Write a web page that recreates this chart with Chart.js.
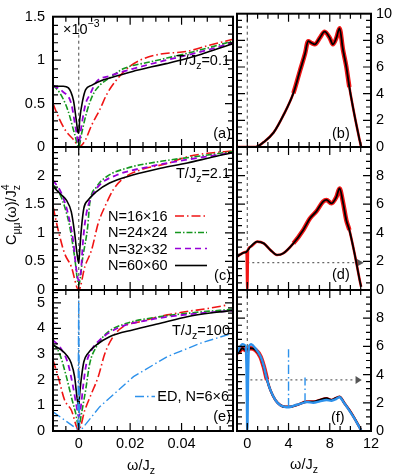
<!DOCTYPE html>
<html><head><meta charset="utf-8">
<script src="https://cdn.jsdelivr.net/npm/chart.js@4/dist/chart.umd.min.js"></script>
<style>
html,body{margin:0;padding:0;background:#fff;width:395px;height:475px;overflow:hidden;}
canvas{position:absolute;left:0;top:0;}
</style></head><body>
<canvas id="pa" width="395" height="475"></canvas>
<canvas id="pb" width="395" height="475"></canvas>
<canvas id="pc" width="395" height="475"></canvas>
<canvas id="pd" width="395" height="475"></canvas>
<canvas id="pe" width="395" height="475"></canvas>
<canvas id="pf" width="395" height="475"></canvas>
<script>
// ---------------- DATA ----------------
// tick labels
const LEFT_X_LABELS = [0, 0.02, 0.04];
const RIGHT_X_LABELS = [0, 4, 8, 12];
const A_Y_LABELS = [0, 0.5, 1, 1.5];
const C_Y_LABELS = [0, 0.5, 1, 1.5, 2];
const E_Y_LABELS = [0, 1, 2, 3, 4, 5];
const B_Y_LABELS = [0, 2, 4, 6, 8, 10];
const DF_Y_LABELS = [0, 2, 4, 6, 8];
const LEGEND_LABELS = ['N=16\u00d716', 'N=24\u00d724', 'N=32\u00d732', 'N=60\u00d760'];
const ED_LABEL = 'ED, N=6\u00d76';

// panel (a) T/Jz = 0.1
const a_N16 = [[-0.01,0.5],[-0.0075,0.32],[-0.0049,0.18],[-0.0016,0.07],[0,0],[0.0024,0.07],[0.005,0.25],[0.0082,0.43],[0.0108,0.6],[0.0141,0.75],[0.0187,0.9],[0.0239,1.0],[0.0318,1.07],[0.042,1.1],[0.0506,1.17],[0.06,1.24]];
const a_N24 = [[-0.01,0.71],[-0.0075,0.63],[-0.0043,0.43],[-0.0016,0.15],[0,0],[0.0011,0.15],[0.003,0.39],[0.0055,0.6],[0.0082,0.71],[0.0122,0.8],[0.0173,0.9],[0.0279,0.98],[0.041,1.07],[0.054,1.17],[0.06,1.22]];
const a_N32 = [[-0.01,0.71],[-0.0063,0.64],[-0.0029,0.5],[-0.0012,0.22],[0,0.04],[0.0011,0.25],[0.0027,0.5],[0.0043,0.6],[0.0069,0.75],[0.0122,0.82],[0.021,0.9],[0.034,1.0],[0.048,1.1],[0.06,1.2]];
const a_N60 = [[-0.01,0.70],[-0.006,0.70],[-0.004,0.68],[-0.003,0.63],[-0.002,0.53],[-0.001,0.32],[-0.0003,0.17],[0,0.16],[0.0004,0.32],[0.0015,0.53],[0.0027,0.66],[0.005,0.71],[0.0094,0.77],[0.015,0.82],[0.021,0.87],[0.028,0.92],[0.034,0.96],[0.041,1.01],[0.048,1.07],[0.054,1.13],[0.06,1.19]];

// panel (c) T/Jz = 2.1
const c_N16 = [[-0.01,1.46],[-0.008,1.05],[-0.0055,0.64],[-0.0029,0.41],[0,0],[0.0024,0.41],[0.005,0.7],[0.0076,1.17],[0.0102,1.46],[0.0134,1.75],[0.0173,1.95],[0.024,2.1],[0.0344,2.21],[0.0422,2.33],[0.05,2.39],[0.06,2.43]];
const c_N24 = [[-0.01,1.84],[-0.0075,1.69],[-0.0055,1.46],[-0.0035,1.11],[-0.0016,0.58],[0,0.09],[0.0016,0.58],[0.0035,1.11],[0.0043,1.52],[0.0069,1.8],[0.0108,1.98],[0.0187,2.13],[0.032,2.25],[0.045,2.33],[0.06,2.42]];
const c_N32 = [[-0.01,1.92],[-0.0067,1.69],[-0.0042,1.34],[-0.0022,0.87],[-0.0009,0.35],[0,0.17],[0.0009,0.35],[0.0017,0.87],[0.003,1.34],[0.005,1.63],[0.0082,1.84],[0.0148,2.01],[0.0278,2.16],[0.0409,2.27],[0.06,2.4]];
const c_N60 = [[-0.01,1.81],[-0.0067,1.66],[-0.0048,1.57],[-0.0029,1.37],[-0.0016,1.0],[-0.0007,0.65],[0,0.47],[0.0004,0.7],[0.0011,1.1],[0.002,1.43],[0.0036,1.57],[0.0069,1.72],[0.012,1.87],[0.021,2.01],[0.0318,2.13],[0.0422,2.22],[0.0526,2.33],[0.06,2.4]];

// panel (e) T/Jz = 100
const e_N16 = [[-0.01,2.77],[-0.008,2.12],[-0.0055,1.21],[-0.0029,0.82],[0,0.04],[0.0024,0.82],[0.005,1.47],[0.0076,2.12],[0.0102,3.03],[0.0134,3.68],[0.0173,4.07],[0.024,4.27],[0.0344,4.53],[0.042,4.66],[0.0503,4.78],[0.058,4.92]];
const e_N24 = [[-0.01,3.4],[-0.0075,3.03],[-0.0048,2.12],[-0.0029,1.34],[-0.0012,0.7],[0,0.17],[0.0011,0.7],[0.0027,1.6],[0.0043,2.64],[0.0069,3.29],[0.0108,3.81],[0.0187,4.2],[0.0318,4.46],[0.045,4.62],[0.06,4.75]];
const e_N32 = [[-0.01,3.55],[-0.0068,3.2],[-0.0042,2.64],[-0.0022,1.73],[-0.0009,1.0],[0,0.56],[0.0009,1.0],[0.0017,1.73],[0.003,2.64],[0.005,3.16],[0.0082,3.55],[0.0148,4.0],[0.0278,4.34],[0.0409,4.53],[0.06,4.7]];
const e_N60 = [[-0.01,3.36],[-0.0068,3.16],[-0.0048,2.97],[-0.0029,2.64],[-0.0016,2.12],[-0.0007,1.34],[0,0.95],[0.0004,1.48],[0.0011,2.12],[0.002,2.7],[0.0036,3.03],[0.0069,3.36],[0.012,3.68],[0.0213,3.95],[0.0318,4.2],[0.0422,4.46],[0.0527,4.62],[0.06,4.7]];
const e_ED = [[-0.01,0.75],[-0.0003,0.05],[0,5.1],[0.0003,0.05],[0.001,0.05],[0.0082,0.95],[0.0213,2.12],[0.0344,2.9],[0.0475,3.43],[0.06,3.82]];

// panel (b) T/Jz = 0.1 (full range)
const b_mean = [[-1,0],[0.8,0],[1.6,0.37],[2.55,1.08],[3.5,2.38],[4.47,4.04],[5.1,5.7],[5.6,7.0],[5.9,7.94],[6.24,7.8],[6.55,7.7],[7.03,8.18],[7.5,8.65],[8.0,8.18],[8.3,7.7],[8.64,8.18],[8.95,8.9],[9.27,7.35],[9.6,6.05],[9.9,4.5],[10.4,2.38],[10.9,0.5],[11.04,0]];
// panel (d) T/Jz = 2.1
const d_mean = [[-1,2.33],[-0.48,2.57],[-0.07,2.68],[0.32,3.03],[0.96,3.38],[1.6,3.26],[2.24,2.8],[2.88,2.45],[3.5,2.57],[4.47,3.26],[5.43,4.2],[6.07,5.0],[6.7,5.5],[7.35,6.18],[7.68,6.3],[8.16,6.06],[8.64,6.5],[8.95,7.1],[9.27,6.18],[9.6,4.9],[9.9,4.2],[10.4,2.57],[10.9,0.7],[11.04,0.23]];
const d_qmc = [[-1,2.33],[-0.48,2.57],[-0.07,2.68],[0,0],[0.07,2.8],[0.32,3.03],[0.96,3.38],[1.6,3.26],[2.24,2.8],[2.88,2.45],[3.5,2.57],[4.47,3.26],[5.43,4.2],[6.07,5.0],[6.7,5.5],[7.35,6.18],[7.68,6.3],[8.16,6.06],[8.64,6.5],[8.95,7.1],[9.27,6.18],[9.6,4.9],[9.9,4.2],[10.4,2.57],[10.9,0.7],[11.04,0.23]];
const D_GUIDE_Y = 1.91;
// panel (f) T/Jz = 100
const f_mean = [[-1,5.55],[-0.8,5.62],[-0.48,5.86],[-0.16,5.74],[0.32,5.86],[0.8,5.74],[1.28,5.27],[1.6,4.56],[1.92,3.62],[2.24,2.9],[2.72,2.2],[3.2,1.84],[3.68,1.72],[4.15,1.72],[4.8,1.84],[5.76,2.08],[6.4,2.08],[7.03,2.2],[7.68,2.32],[8.16,2.2],[8.57,2.32],[8.95,2.43],[9.43,1.96],[9.9,1.49],[10.4,0.9],[11.04,0.07]];
const f_ED = [[-1,5.6],[-0.5,6.15],[-0.15,6.0],[0,0],[0.15,6.0],[0.4,6.15],[0.8,5.85],[1.28,5.3],[1.6,4.6],[1.92,3.62],[2.24,2.9],[2.72,2.2],[3.2,1.82],[3.68,1.7],[4.15,1.7],[4.8,1.86],[5.76,2.05],[6.4,2.0],[7.03,2.1],[7.68,2.2],[8.16,2.15],[8.57,2.25],[8.95,2.4],[9.43,1.95],[9.9,1.45],[10.4,0.88],[11.04,0.05]];
const f_ED_peak1 = [[4,1.7],[4,5.8]];
const f_ED_peak2 = [[5.6,2.05],[5.6,3.8]];
const F_GUIDE_Y = 3.62;

// ---------------- STYLE / HELPERS ----------------
const FF = '"Liberation Sans", Arial, Helvetica, sans-serif';
const FS = 14.5, FSS = 10.5;
const RED = 'rgb(240,20,20)', GREEN = 'rgb(20,150,30)', PURPLE = 'rgb(150,0,215)', BLUE = 'rgb(45,145,235)';
const DASH = { red:[9,3,1.5,3], green:[6,2,1.5,2], purple:[6,4], blue:[9,3,1.5,3] };
const pts = a => a.map(([x,y]) => ({x, y}));

function rich(ctx, parts, x, y, align) {
  let w = 0; const m = [];
  parts.forEach(p => { ctx.font = ((p.sub||p.sup) ? FSS : FS) + 'px ' + FF; const pw = ctx.measureText(p.t).width; m.push(pw); if (!p.stack) w += pw; });
  let cx = align === 'right' ? x - w : align === 'center' ? x - w/2 : x;
  let last = cx;
  ctx.textAlign = 'left'; ctx.textBaseline = 'alphabetic'; ctx.fillStyle = '#000';
  parts.forEach((p,i) => {
    ctx.font = ((p.sub||p.sup) ? FSS : FS) + 'px ' + FF;
    const dy = p.sub ? 4 : p.sup ? -7 : 0;
    if (p.stack) { ctx.fillText(p.t, last, y + dy); }
    else { ctx.fillText(p.t, cx, y + dy); last = cx; cx += m[i]; }
  });
}

function lineDs(data, color, dash, width, extra) {
  return Object.assign({ data: pts(data), borderColor: color, borderDash: dash || [], borderWidth: width || 1.6,
    pointRadius: 0, fill: false, clip: 0, cubicInterpolationMode: 'monotone' }, extra || {});
}
// later datasets are drawn on top
const stackOrder = sets => sets.map((d, i) => Object.assign(d, { order: sets.length - i }));

function range(min, max, step) {
  const out = []; const n = Math.round((max - min) / step);
  for (let i = 0; i <= n; i++) out.push(Math.round((min + i * step) * 1e9) / 1e9);
  return out;
}
const isIn = (arr, v) => arr.some(l => Math.abs(l - v) < 1e-9);

const deco = {
  id: 'deco',
  beforeDatasetsDraw(chart, args, o) {
    const {ctx, chartArea: ca, scales: {x, y}} = chart;
    ctx.save();
    ctx.beginPath(); ctx.rect(ca.left, ca.top, ca.right - ca.left, ca.bottom - ca.top); ctx.clip();
    ctx.strokeStyle = '#666'; ctx.lineWidth = 1.2; ctx.setLineDash([3, 3]);
    const x0 = x.getPixelForValue(0);
    ctx.beginPath(); ctx.moveTo(x0, ca.top); ctx.lineTo(x0, ca.bottom); ctx.stroke();
    if (o.guide) {
      const g = o.guide; const py = y.getPixelForValue(g.y);
      ctx.setLineDash([2, 3]); ctx.lineWidth = 1.2;
      ctx.beginPath(); ctx.moveTo(x.getPixelForValue(g.x0), py); ctx.lineTo(x.getPixelForValue(g.x1), py); ctx.stroke();
      ctx.setLineDash([]); ctx.fillStyle = '#555';
      const ax0 = x.getPixelForValue(g.x1), ax1 = x.getPixelForValue(g.xa);
      ctx.beginPath(); ctx.moveTo(ax0, py - 4); ctx.lineTo(ax1, py); ctx.lineTo(ax0, py + 4); ctx.closePath(); ctx.fill();
    }
    ctx.restore();
  },
  afterDraw(chart, args, o) {
    const {ctx, chartArea: ca, scales: {x, y}} = chart;
    ctx.save();
    ctx.setLineDash([]); ctx.strokeStyle = '#000'; ctx.lineWidth = 1.2;
    ctx.beginPath();
    x.ticks.forEach(t => {
      if (t.value <= x.min + 1e-12 || t.value >= x.max - 1e-12) return;
      const p = x.getPixelForValue(t.value); const L = isIn(o.xMajor, t.value) ? 8 : 5;
      ctx.moveTo(p, ca.bottom); ctx.lineTo(p, ca.bottom - L);
      ctx.moveTo(p, ca.top); ctx.lineTo(p, ca.top + L);
    });
    y.ticks.forEach(t => {
      if (t.value <= y.min + 1e-12 || t.value >= y.max - 1e-12) return;
      const p = y.getPixelForValue(t.value); const L = isIn(o.yMajor, t.value) ? 8 : 5;
      ctx.moveTo(ca.left, p); ctx.lineTo(ca.left + L, p);
      ctx.moveTo(ca.right, p); ctx.lineTo(ca.right - L, p);
    });
    ctx.stroke();
    ctx.lineWidth = 2;
    ctx.strokeRect(ca.left, ca.top, ca.right - ca.left, ca.bottom - ca.top);
    (o.texts || []).forEach(tx => rich(ctx, tx.parts, tx.x, tx.y, tx.align));
    (o.legend || []).forEach(l => {
      ctx.save(); ctx.strokeStyle = l.color; ctx.lineWidth = 1.6; ctx.setLineDash(l.dash);
      ctx.beginPath(); ctx.moveTo(l.x0, l.ly); ctx.lineTo(l.x1, l.ly); ctx.stroke(); ctx.restore();
      rich(ctx, [{t: l.text}], l.tx, l.ty, l.align || 'left');
    });
    if (o.ytitle) {
      ctx.save(); ctx.translate(o.ytitle.x, o.ytitle.y); ctx.rotate(-Math.PI / 2);
      rich(ctx, [{t:'C'},{t:'\u03bc\u03bc', sub:true},{t:'(\u03c9)/J'},{t:'z', sub:true},{t:'4', sup:true, stack:true}], 0, 0, 'center');
      ctx.restore();
    }
    ctx.restore();
  }
};

function panel(id, rect, cfg) {
  const W = 395, H = 475;
  const xAxisH = cfg.showX ? 44 : 0;
  const left = cfg.ySide === 'left';
  const yW = left ? rect.l : W - rect.r;
  new Chart(document.getElementById(id), {
    type: 'line',
    data: { datasets: stackOrder(cfg.datasets) },
    options: {
      responsive: false, animation: false, events: [],
      layout: { autoPadding: false, padding: { left: left ? 0 : rect.l, right: left ? W - rect.r : 0, top: rect.t, bottom: H - rect.b - xAxisH } },
      plugins: { legend: { display: false }, tooltip: { enabled: false }, deco: cfg.deco },
      scales: {
        x: { type: 'linear', position: 'bottom', min: cfg.xr[0], max: cfg.xr[1],
          grid: { display: false, drawTicks: false }, border: { display: false },
          afterBuildTicks: s => { s.ticks = range(cfg.xr[0], cfg.xr[1], cfg.xStep).map(v => ({value: v})); },
          afterFit: s => { s.height = xAxisH; },
          ticks: { display: !!cfg.showX, autoSkip: false, maxRotation: 0, minRotation: 0, padding: 4, color: '#000',
            font: { family: FF, size: FS },
            callback: v => isIn(cfg.xLabels, v) ? String(Math.round(v * 1e6) / 1e6) : '' } },
        y: { type: 'linear', position: cfg.ySide, min: cfg.yr[0], max: cfg.yr[1],
          grid: { display: false, drawTicks: false }, border: { display: false },
          afterBuildTicks: s => { s.ticks = range(cfg.yr[0], cfg.yr[1], cfg.yStep).map(v => ({value: v})); },
          afterFit: s => { s.width = yW; },
          ticks: { autoSkip: false, padding: left ? 8 : 5, color: '#000', font: { family: FF, size: FS },
            callback: v => isIn(cfg.yLabels, v) ? String(Math.round(v * 1e6) / 1e6) : '' } }
      }
    },
    plugins: [deco]
  });
}

const LX = [-0.01, 0.06], RX = [-1, 12];
const L = {l: 53, r: 233}, R = {l: 237, r: 371};
const ROWS = [{t: 6, b: 147}, {t: 147, b: 290}, {t: 290, b: 431}];
const leftSets = (n16, n24, n32, n60) => [
  lineDs(n16, RED, DASH.red, 1.6), lineDs(n24, GREEN, DASH.green, 1.6),
  lineDs(n32, PURPLE, DASH.purple, 1.8), lineDs(n60, '#000', [], 1.6)];
const tz = (val) => [{t:'T/J'},{t:'z', sub:true},{t:'=' + val}];
const redBand = (data) => lineDs(data, RED, [], 4, { segment: { borderWidth: c => (c.p0.parsed.y + c.p1.parsed.y) / 2 > 3.5 ? 4.5 : 2.6 } });

// (a)
panel('pa', {l: L.l, r: L.r, t: ROWS[0].t, b: ROWS[0].b}, {
  xr: LX, yr: [0, 1.5], xStep: 0.005, yStep: 0.1, xLabels: LEFT_X_LABELS, yLabels: A_Y_LABELS, ySide: 'left',
  datasets: leftSets(a_N16, a_N24, a_N32, a_N60),
  deco: { xMajor: LEFT_X_LABELS, yMajor: A_Y_LABELS, texts: [
    {parts: [{t:'\u00d710'},{t:'\u22123', sup:true}], x: 63, y: 34, align: 'left'},
    {parts: tz('0.1'), x: 230, y: 65, align: 'right'},
    {parts: [{t:'(a)'}], x: 231, y: 138, align: 'right'}] }
});
// (c)
panel('pc', {l: L.l, r: L.r, t: ROWS[1].t, b: ROWS[1].b}, {
  xr: LX, yr: [0, 2.5], xStep: 0.005, yStep: 0.1, xLabels: LEFT_X_LABELS, yLabels: C_Y_LABELS, ySide: 'left',
  datasets: leftSets(c_N16, c_N24, c_N32, c_N60),
  deco: { xMajor: LEFT_X_LABELS, yMajor: C_Y_LABELS, texts: [
    {parts: tz('2.1'), x: 230, y: 178, align: 'right'},
    {parts: [{t:'(c)'}], x: 231, y: 280, align: 'right'}],
    legend: [
      {text: LEGEND_LABELS[0], tx: 108, ty: 221, x0: 175, x1: 207, ly: 216, color: RED, dash: DASH.red},
      {text: LEGEND_LABELS[1], tx: 108, ty: 237, x0: 175, x1: 207, ly: 232.5, color: GREEN, dash: DASH.green},
      {text: LEGEND_LABELS[2], tx: 108, ty: 253.5, x0: 175, x1: 207, ly: 248.5, color: PURPLE, dash: DASH.purple},
      {text: LEGEND_LABELS[3], tx: 108, ty: 270, x0: 175, x1: 207, ly: 265.5, color: '#000', dash: []}],
    ytitle: {x: 16, y: 215} }
});
// (e)
panel('pe', {l: L.l, r: L.r, t: ROWS[2].t, b: ROWS[2].b}, {
  xr: LX, yr: [0, 5.5], xStep: 0.005, yStep: 0.2, xLabels: LEFT_X_LABELS, yLabels: E_Y_LABELS, ySide: 'left', showX: true,
  datasets: leftSets(e_N16, e_N24, e_N32, e_N60).concat([lineDs(e_ED, BLUE, DASH.blue, 1.4, {cubicInterpolationMode: 'default', tension: 0})]),
  deco: { xMajor: LEFT_X_LABELS, yMajor: E_Y_LABELS, texts: [
    {parts: tz('100'), x: 230, y: 335, align: 'right'},
    {parts: [{t:'(e)'}], x: 231, y: 421, align: 'right'},
    {parts: [{t:'\u03c9/J'},{t:'z', sub:true}], x: 141, y: 470, align: 'center'}],
    legend: [{text: ED_LABEL, tx: 229, ty: 401, align: 'right', x0: 135, x1: 155, ly: 396.5, color: BLUE, dash: DASH.blue}] }
});
// (b)
panel('pb', {l: R.l, r: R.r, t: ROWS[0].t, b: ROWS[0].b}, {
  xr: RX, yr: [0, 10], xStep: 1, yStep: 0.5, xLabels: RIGHT_X_LABELS, yLabels: B_Y_LABELS, ySide: 'right',
  datasets: [redBand(b_mean), lineDs(b_mean, '#000', [], 1.8)],
  deco: { xMajor: RIGHT_X_LABELS, yMajor: B_Y_LABELS, texts: [{parts: [{t:'(b)'}], x: 332, y: 138, align: 'left'}] }
});
// (d)
panel('pd', {l: R.l, r: R.r, t: ROWS[1].t, b: ROWS[1].b}, {
  xr: RX, yr: [0, 10], xStep: 1, yStep: 0.5, xLabels: RIGHT_X_LABELS, yLabels: DF_Y_LABELS, ySide: 'right',
  datasets: [redBand(d_qmc), lineDs(d_mean, '#000', [], 1.8)],
  deco: { xMajor: RIGHT_X_LABELS, yMajor: DF_Y_LABELS, guide: {y: D_GUIDE_Y, x0: 0, x1: 10.6, xa: 11.3},
    texts: [{parts: [{t:'(d)'}], x: 332, y: 279, align: 'left'}] }
});
// (f)
panel('pf', {l: R.l, r: R.r, t: ROWS[2].t, b: ROWS[2].b}, {
  xr: RX, yr: [0, 10], xStep: 1, yStep: 0.5, xLabels: RIGHT_X_LABELS, yLabels: DF_Y_LABELS, ySide: 'right', showX: true,
  datasets: [redBand(f_mean), lineDs(f_mean, '#000', [], 2),
    lineDs(f_ED, BLUE, [], 2.4, {cubicInterpolationMode: 'default', tension: 0.3}),
    lineDs(f_ED_peak1, BLUE, DASH.blue, 1.4), lineDs(f_ED_peak2, BLUE, DASH.blue, 1.4)],
  deco: { xMajor: RIGHT_X_LABELS, yMajor: DF_Y_LABELS, guide: {y: F_GUIDE_Y, x0: 0.3, x1: 10.5, xa: 11.1},
    texts: [{parts: [{t:'(f)'}], x: 331, y: 422, align: 'left'},
      {parts: [{t:'\u03c9/J'},{t:'z', sub:true}], x: 304, y: 469, align: 'center'}] }
});
</script>
</body></html>
